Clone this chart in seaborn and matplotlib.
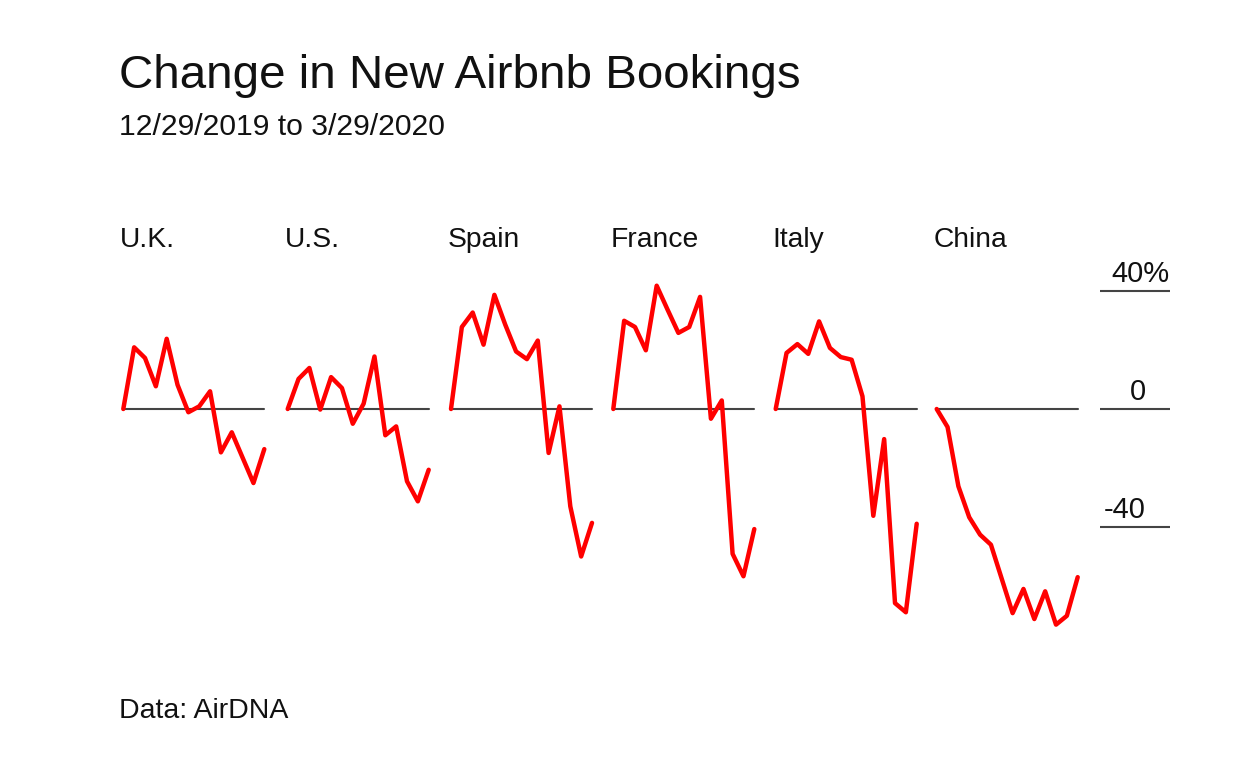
import numpy as np
import pandas as pd
import matplotlib
matplotlib.use("Agg")
import matplotlib.pyplot as plt
import seaborn as sns

# weekly change in new bookings, %, 12/29/2019 .. 3/29/2020
countries = ["U.K.", "U.S.", "Spain", "France", "Italy", "China"]
uk = [0, 20.9, 17.3, 7.7, 23.8, 8.2, -1.1, 0.9, 6.0, -14.7, -7.9, -16.5, -25.1, -13.6]
us = [0, 10.2, 13.9, -0.2, 10.8, 7.1, -5.0, 1.8, 17.8, -8.9, -5.9, -24.5, -31.3, -20.6]
spain = [0, 27.8, 32.7, 21.8, 38.7, 28.6, 19.5, 16.9, 23.2, -14.9, 0.9, -33.0, -50.0, -38.6]
france = [0, 29.9, 27.8, 19.9, 41.8, 33.7, 25.8, 27.8, 38.0, -3.3, 2.9, -49.1, -56.7, -40.7]
italy = [0, 19.0, 22.0, 18.7, 29.7, 20.7, 17.6, 16.7, 4.3, -36.2, -10.2, -65.8, -68.9, -38.9]
china = [0, -6.1, -26.2, -36.7, -42.6, -46.0, -57.6, -69.2, -61.0, -71.2, -61.8, -73.1, -70.1, -57.0]
series = [uk, us, spain, france, italy, china]
weeks = list(range(14))

ticks = [40, 0, -40]
tick_labels = ["40%", "0", "-40"]

rows = []
for c, vals in zip(countries, series):
    for w, v in zip(weeks, vals):
        rows.append({"country": c, "week": w, "change": v})
df = pd.DataFrame(rows)

sns.set_theme(style="white")
plt.rcParams["font.family"] = ["Liberation Sans", "DejaVu Sans"]

W, H = 1256, 776
fig = plt.figure(figsize=(W / 100, H / 100), dpi=100)

def fx(x):
    return x / W

def fy(y):
    return 1 - y / H

# y mapping: 0 at 409px, 2.95 px per point
ylo, yhi = -80, 50
y_top = 409 - yhi * 2.95
y_bot = 409 - ylo * 2.95
ax_h = (y_bot - y_top) / H
ax_b = fy(y_bot)

lefts = [123.3, 287.7, 451.0, 613.3, 775.7, 936.7]
pw = 141

for i, c in enumerate(countries):
    ax = fig.add_axes([fx(lefts[i]), ax_b, pw / W, ax_h])
    ax.axhline(0, color="#444444", lw=1.5, zorder=1)
    sns.lineplot(data=df[df.country == c], x="week", y="change", ax=ax,
                 color="#ff0000", lw=3.2, zorder=3)
    for ln in ax.lines:
        ln.set_clip_on(False)
    ax.set_xlim(0, 13)
    ax.set_ylim(ylo, yhi)
    ax.axis("off")
    fig.text(fx(lefts[i] - 3), fy(247), c, fontsize=20.3, color="#111111",
             ha="left", va="baseline")

# right-side scale
sax = fig.add_axes([fx(1100), ax_b, 70 / W, ax_h])
sax.set_xlim(0, 1)
sax.set_ylim(ylo, yhi)
sax.axis("off")
for t, lab in zip(ticks, tick_labels):
    sax.axhline(t, color="#444444", lw=1.5)
    xr = 1170 if lab.endswith("%") else 1146
    fig.text(fx(xr), fy(409 - t * 2.95 - 9), lab, fontsize=21, color="#111111",
             ha="right", va="baseline")

fig.text(fx(119), fy(88), "Change in New Airbnb Bookings", fontsize=34.2,
         color="#111111", ha="left", va="baseline")
fig.text(fx(119), fy(135), "12/29/2019 to 3/29/2020", fontsize=21.7,
         color="#111111", ha="left", va="baseline")
fig.text(fx(119), fy(718), "Data: AirDNA", fontsize=20.5,
         color="#111111", ha="left", va="baseline")

fig.savefig("out.png", dpi=100, facecolor="white")
